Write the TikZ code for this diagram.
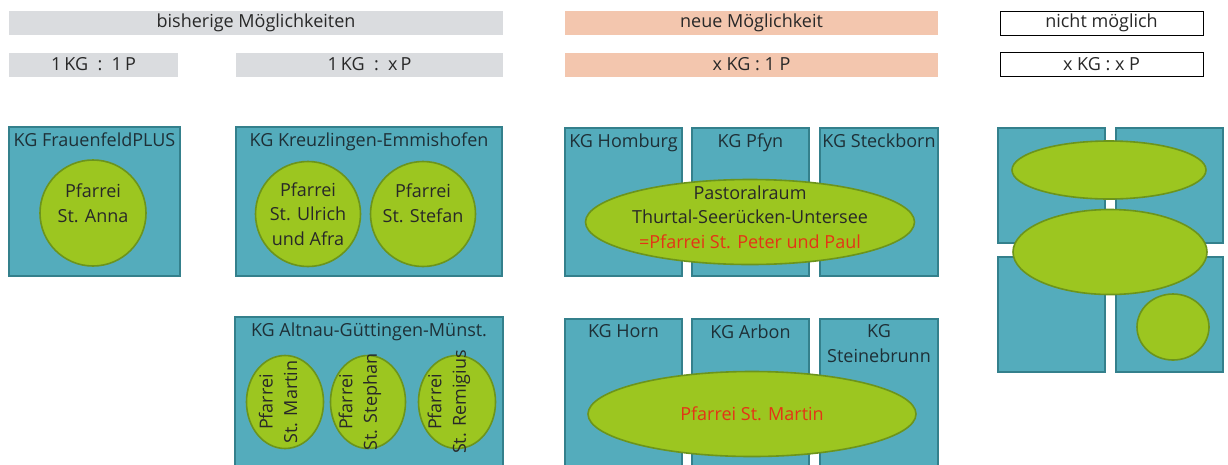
\documentclass[tikz,border=0pt]{standalone}
\usepackage{fontspec}
\setmainfont{Open Sans}
\usetikzlibrary{shapes.geometric}

\definecolor{headgrey}{RGB}{218,220,223}
\definecolor{headrose}{RGB}{243,198,174}
\definecolor{kgfill}{RGB}{84,172,188}
\definecolor{kgline}{RGB}{52,128,140}
\definecolor{kgtext}{RGB}{30,48,55}
\definecolor{pfill}{RGB}{156,198,32}
\definecolor{pline}{RGB}{108,148,28}
\definecolor{pred}{RGB}{228,52,22}
\definecolor{textgrey}{RGB}{40,40,40}

\begin{document}
\begin{tikzpicture}[%
    x = 1pt, y = -1pt,
    every node/.style = {font = \fontsize{18}{24.5}\selectfont, text = textgrey, align = center},
    headbar/.style = {rectangle, inner sep = 0pt, minimum height = 24},
    kgbox/.style = {rectangle, draw = kgline, fill = kgfill, line width = 1.6pt, inner sep = 0pt},
    kgname/.style = {anchor = north, inner sep = 0pt, yshift = -6.5pt, text = kgtext},
    pfarrei/.style = {ellipse, draw = pline, fill = pfill, line width = 1.6pt, inner sep = 0pt},
    ptext/.style = {inner sep = 0pt}
]

        % The page, the lower boxes run out of it.
        \clip (0, 0) rectangle (1228, 464);

        % Headings of the four columns.
        \node[headbar, fill = headgrey, minimum width = 494] (bisher) at (256, 23) {bisherige Möglichkeiten};
        \node[headbar, fill = headgrey, minimum width = 169] (einseins) at (93.5, 64.5) {1\,KG\ \ :\ \ 1\,P};
        \node[headbar, fill = headgrey, minimum width = 267] (einsx) at (369.5, 64.5) {1\,KG\ \ :\ \ x\,P};
        \node[headbar, fill = headrose, minimum width = 373] (neu) at (751.5, 23) {neue Möglichkeit};
        \node[headbar, fill = headrose, minimum width = 373] (xeins) at (751.5, 64.5) {x KG : 1 P};
        \begin{scope}[%
            every node/.append style = {draw = black, fill = white, line width = 1pt}
        ]
            \node[headbar, minimum width = 203] (nicht) at (1101.5, 23) {nicht möglich};
            \node[headbar, minimum width = 203] (xx) at (1101.5, 64.5) {x KG : x P};
        \end{scope}

        % 1 KG : 1 P
        \node[kgbox, minimum width = 171, minimum height = 149] (frauenfeld) at (94.5, 201.5) {};
        \node[kgname] (frauenfeldname) at (frauenfeld.north) {KG FrauenfeldPLUS};
        \node[pfarrei, minimum width = 106, minimum height = 106] (anna) at (93, 213) {};
        \node[ptext] (annatext) at ([yshift = 10pt]anna.center) {Pfarrei\\St. Anna};

        % 1 KG : x P
        \node[kgbox, minimum width = 266, minimum height = 149] (kreuzlingen) at (369, 201.5) {};
        \node[kgname] (kreuzlingenname) at (kreuzlingen.north) {KG Kreuzlingen-Emmishofen};
        \node[pfarrei, minimum width = 105, minimum height = 105] (ulrich) at (308, 214) {};
        \node[pfarrei, minimum width = 105, minimum height = 105] (stefan) at (423, 214) {};
        \node[ptext] (ulrichtext) at (ulrich.center) {Pfarrei\\St. Ulrich\\und Afra};
        \node[ptext] (stefantext) at ([yshift = 11pt]stefan.center) {Pfarrei\\St. Stefan};

        \node[kgbox, minimum width = 268, minimum height = 163] (altnau) at (369, 398.5) {};
        \node[kgname] (altnauname) at (altnau.north) {KG Altnau-Güttingen-Münst.};
        \node[pfarrei, minimum width = 77, minimum height = 93] (martin) at (285, 402) {};
        \node[pfarrei, minimum width = 75, minimum height = 93] (stephan) at (368, 402) {};
        \node[pfarrei, minimum width = 77, minimum height = 93] (remigius) at (457, 402) {};
        \begin{scope}[%
            every node/.append style = {rotate = 90}
        ]
            \node[ptext] (martintext) at ([xshift = -7pt]martin.center) {Pfarrei\\St. Martin};
            \node[ptext] (stephantext) at ([xshift = -8pt]stephan.center) {Pfarrei\\St. Stephan};
            \node[ptext] (remigiustext) at ([xshift = -8pt]remigius.center) {Pfarrei\\St. Remigius};
        \end{scope}

        % x KG : 1 P
        \node[kgbox, minimum width = 117, minimum height = 148] (homburg) at (623.5, 202) {};
        \node[kgbox, minimum width = 117, minimum height = 148] (pfyn) at (750.5, 202) {};
        \node[kgbox, minimum width = 118, minimum height = 148] (steckborn) at (879, 202) {};
        \node[kgname] (homburgname) at (homburg.north) {KG Homburg};
        \node[kgname] (pfynname) at (pfyn.north) {KG Pfyn};
        \node[kgname] (steckbornname) at (steckborn.north) {KG Steckborn};
        \node[pfarrei, minimum width = 329, minimum height = 85] (pastoralraum) at (750, 222) {};
        \node[ptext] (pastoralraumtext) at ([yshift = 5pt]pastoralraum.center)
            {Pastoralraum\\Thurtal-Seerücken-Untersee\\\textcolor{pred}{=Pfarrei St. Peter und Paul}};

        \node[kgbox, minimum width = 117, minimum height = 161] (horn) at (623.5, 399.5) {};
        \node[kgbox, minimum width = 117, minimum height = 161] (arbon) at (750.5, 399.5) {};
        \node[kgbox, minimum width = 118, minimum height = 161] (steinebrunn) at (879, 399.5) {};
        \node[kgname] (hornname) at (horn.north) {KG Horn};
        \node[kgname] (arbonname) at (arbon.north) {KG Arbon};
        \node[kgname] (steinebrunnname) at (steinebrunn.north) {KG\\Steinebrunn};
        \node[pfarrei, minimum width = 328, minimum height = 85] (stmartin) at (752, 414) {};
        \node[ptext, text = pred] (stmartintext) at (stmartin.center) {Pfarrei St. Martin};

        % x KG : x P
        \node[kgbox, minimum width = 107, minimum height = 115] (kgA) at (1051.5, 185.5) {};
        \node[kgbox, minimum width = 107, minimum height = 115] (kgB) at (1169.5, 185.5) {};
        \node[kgbox, minimum width = 107, minimum height = 115] (kgC) at (1051.5, 314.5) {};
        \node[kgbox, minimum width = 107, minimum height = 115] (kgD) at (1169.5, 314.5) {};
        \node[pfarrei, minimum width = 194, minimum height = 58] (pA) at (1109, 170) {};
        \node[pfarrei, minimum width = 194, minimum height = 85] (pB) at (1110, 252) {};
        \node[pfarrei, minimum width = 72, minimum height = 66] (pC) at (1173, 327) {};
    \end{tikzpicture}
\end{document}
